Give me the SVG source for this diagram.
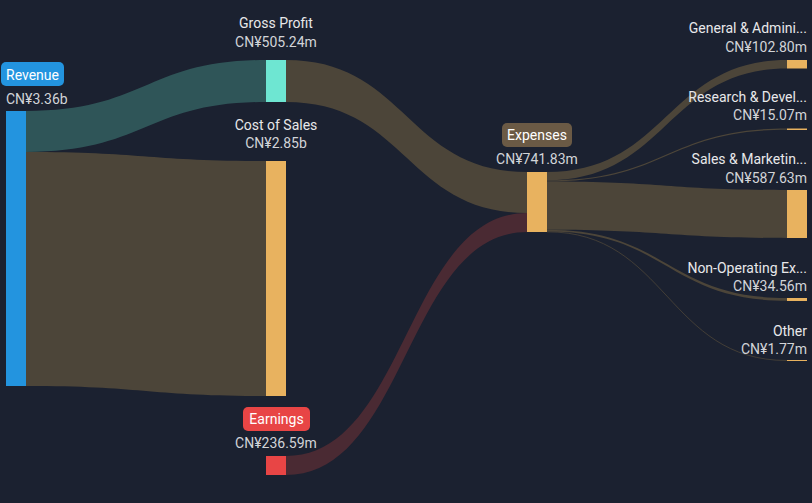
<svg xmlns="http://www.w3.org/2000/svg" width="812" height="503" viewBox="0 0 812 503">
<style>
text{font-family:Roboto,"Liberation Sans",sans-serif;font-size:14px}
.n{fill:#e8e8ea}
.v{fill:#d2d4d8}
.m{text-anchor:middle}
.e{text-anchor:end}
.lb{fill:#ffffff}
.fb{fill:#4c4539}
.ft{fill:#2f5558}
.fr{fill:#4a2a33}
.ln{fill:none;stroke:#4c4539}
.o{fill:#e8b25f}
</style>
<rect x="0" y="0" width="812" height="503" fill="#1b2130"/>
<g id="connectors">
<path class="ft" d="M26 111 C146 111 146 60 266 60 L266 102 C146 102 146 152 26 152 Z"/>
<path class="fb" d="M26 152 C146 152 146 161 266 161 L266 396 C146 396 146 386 26 386 Z"/>
<path class="fb" d="M286 60 C406.5 60 406.5 172 527 172 L527 213 C406.5 213 406.5 102 286 102 Z"/>
<path class="fr" d="M286 456 C406.5 456 406.5 213 527 213 L527 232 C406.5 232 406.5 475 286 475 Z"/>
<path class="fb" d="M547 172 C667 172 667 60 787 60 L787 68.5 C667 68.5 667 180.3 547 180.3 Z"/>
<path class="fb" d="M547 180.3 C667 180.3 667 128.5 787 128.5 L787 129.8 C667 129.8 667 181.5 547 181.5 Z"/>
<path class="fb" d="M547 181.5 C667 181.5 667 190 787 190 L787 238 C667 238 667 229.8 547 229.8 Z"/>
<path class="fb" d="M547 229.8 C667 229.8 667 298 787 298 L787 300.8 C667 300.8 667 231.6 547 231.6 Z"/>
<path class="ln" stroke-width="0.8" d="M547 231.8 C667 231.8 667 360.5 787 360.5"/>
</g>
<g id="revenue">
<rect x="6" y="111" width="20" height="275" fill="#2394df"/>
<rect x="1" y="62" width="63" height="24" rx="5" fill="#2394df"/>
<text class="lb" x="6" y="80">Revenue</text>
<text class="v" x="6" y="104">CN¥3.36b</text>
</g>
<g id="gross-profit">
<rect x="266" y="60" width="20" height="42" fill="#6ee6d2"/>
<text class="n m" x="276" y="28">Gross Profit</text>
<text class="v m" x="276" y="47">CN¥505.24m</text>
</g>
<g id="cost-of-sales">
<rect class="o" x="266" y="161" width="20" height="235"/>
<text class="n m" x="276" y="130">Cost of Sales</text>
<text class="v m" x="276" y="148">CN¥2.85b</text>
</g>
<g id="earnings">
<rect x="266" y="456" width="20" height="19" fill="#e84545"/>
<rect x="243" y="407" width="67" height="24" rx="5" fill="#e84545"/>
<text class="lb m" x="276.5" y="424">Earnings</text>
<text class="v m" x="276" y="448">CN¥236.59m</text>
</g>
<g id="expenses">
<rect class="o" x="527" y="172" width="20" height="60"/>
<rect x="502" y="123" width="70" height="24" rx="5" fill="#6b5a45"/>
<text class="lb m" x="537" y="140">Expenses</text>
<text class="v m" x="537" y="164">CN¥741.83m</text>
</g>
<g id="general-admin">
<rect class="o" x="787" y="60" width="20" height="8.5"/>
<text class="n e" x="807" y="33">General &amp; Admini...</text>
<text class="v e" x="807" y="52">CN¥102.80m</text>
</g>
<g id="research-dev">
<rect class="o" x="787" y="128.5" width="20" height="1.5"/>
<text class="n e" x="807" y="102">Research &amp; Devel...</text>
<text class="v e" x="807" y="120">CN¥15.07m</text>
</g>
<g id="sales-marketing">
<rect class="o" x="787" y="190" width="20" height="48"/>
<text class="n e" x="807" y="164">Sales &amp; Marketin...</text>
<text class="v e" x="807" y="183">CN¥587.63m</text>
</g>
<g id="non-operating">
<rect class="o" x="787" y="298" width="20" height="3"/>
<text class="n e" x="807" y="273">Non-Operating Ex...</text>
<text class="v e" x="807" y="291">CN¥34.56m</text>
</g>
<g id="other">
<rect class="o" x="787" y="360" width="20" height="1"/>
<text class="n e" x="807" y="336">Other</text>
<text class="v e" x="807" y="354">CN¥1.77m</text>
</g>
</svg>
